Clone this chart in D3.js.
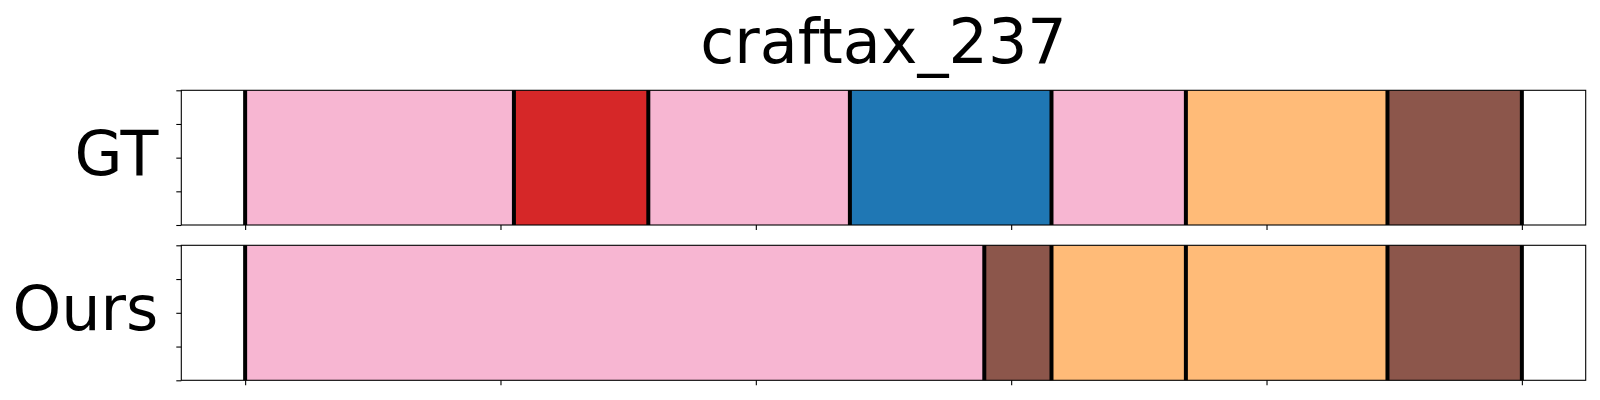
<!DOCTYPE html>
<html>
<head>
<meta charset="utf-8">
<script src="https://cdn.jsdelivr.net/npm/d3@7"></script>
<style>
  html, body { margin: 0; padding: 0; background: #fff; }
  svg { display: block; font-family: "DejaVu Sans", sans-serif; }
</style>
</head>
<body>
<svg id="chart" width="1600" height="400"></svg>
<script>
// ---- data ----
const title = "craftax_237";
const numFrames = 19;
const panelLabels = ["GT", "Ours"];
const gtBoundaries = [0, 4, 6, 9, 12, 14, 17, 19];
const gtClasses = ["pink", "red", "pink", "blue", "pink", "orange", "brown"];
const oursBoundaries = [0, 11, 12, 14, 17, 19];
const oursClasses = ["pink", "brown", "orange", "orange", "brown"];
const xTicks = [0, 0.2, 0.4, 0.6, 0.8, 1.0];
const yTicks = [0, 0.25, 0.5, 0.75, 1.0];

// ---- style ----
const classColor = {
  pink: "#f7b6d2",
  red: "#d62728",
  blue: "#1f77b4",
  orange: "#ffbb78",
  brown: "#8c564b"
};

const svg = d3.select("#chart");
const left = 181.3, right = 1585.7;
const panels = [
  { label: panelLabels[0], bounds: gtBoundaries, classes: gtClasses, top: 90.3, bottom: 225 },
  { label: panelLabels[1], bounds: oursBoundaries, classes: oursClasses, top: 245.3, bottom: 380.3 }
];

const x = d3.scaleLinear().domain([-0.05, 1.05]).range([left, right]);

svg.append("text")
  .attr("x", (left + right) / 2)
  .attr("y", 63.3)
  .attr("text-anchor", "middle")
  .attr("font-size", 62)
  .attr("fill", "#000")
  .text(title);

panels.forEach(p => {
  const y = d3.scaleLinear().domain([0, 1]).range([p.bottom, p.top]);
  const g = svg.append("g");

  const segs = p.classes.map((c, i) => ({
    x0: p.bounds[i] / numFrames,
    x1: p.bounds[i + 1] / numFrames,
    c
  }));

  g.selectAll("rect.seg").data(segs).enter().append("rect")
    .attr("class", "seg")
    .attr("x", d => x(d.x0))
    .attr("width", d => x(d.x1) - x(d.x0))
    .attr("y", y(1))
    .attr("height", y(0) - y(1))
    .attr("fill", d => classColor[d.c]);

  g.selectAll("line.bd").data(p.bounds).enter().append("line")
    .attr("class", "bd")
    .attr("x1", d => x(d / numFrames))
    .attr("x2", d => x(d / numFrames))
    .attr("y1", y(1))
    .attr("y2", y(0))
    .attr("stroke", "#000")
    .attr("stroke-width", 4);

  const ax = g.append("g")
    .attr("transform", `translate(0,${p.bottom})`)
    .call(d3.axisBottom(x).tickValues(xTicks).tickFormat("").tickSize(5).tickSizeOuter(0));
  ax.select(".domain").remove();
  ax.selectAll("line").attr("stroke", "#000").attr("stroke-width", 1.1);

  const ay = g.append("g")
    .attr("transform", `translate(${left},0)`)
    .call(d3.axisLeft(y).tickValues(yTicks).tickFormat("").tickSize(5).tickSizeOuter(0));
  ay.select(".domain").remove();
  ay.selectAll("line").attr("stroke", "#000").attr("stroke-width", 1.1);

  g.append("rect")
    .attr("x", left)
    .attr("y", p.top)
    .attr("width", right - left)
    .attr("height", p.bottom - p.top)
    .attr("fill", "none")
    .attr("stroke", "#000")
    .attr("stroke-width", 1.1);

  g.append("text")
    .attr("x", 158.3)
    .attr("y", (p.top + p.bottom) / 2 + 17.3)
    .attr("text-anchor", "end")
    .attr("font-size", 62)
    .attr("fill", "#000")
    .text(p.label);
});
</script>
</body>
</html>
